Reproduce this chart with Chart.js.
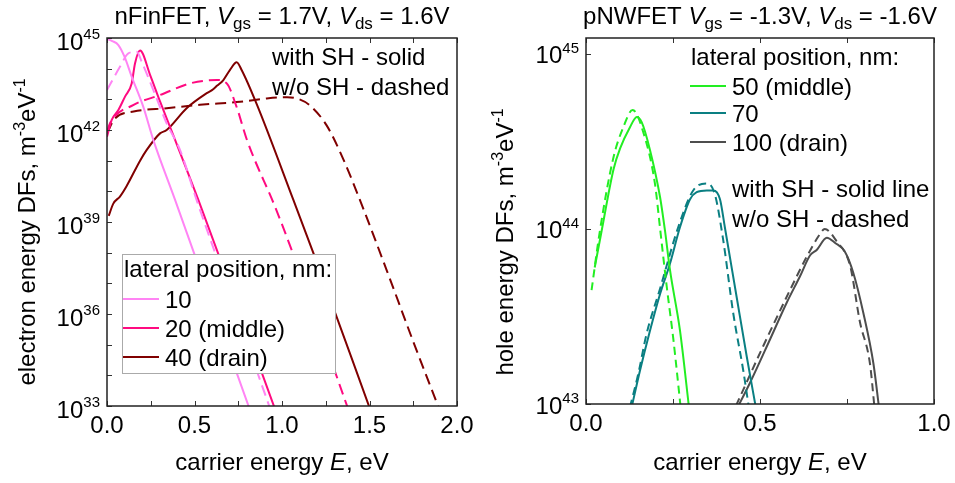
<!DOCTYPE html>
<html>
<head>
<meta charset="utf-8">
<script src="https://cdn.jsdelivr.net/npm/chart.js@4.4.1/dist/chart.umd.min.js"></script>
<style>
  html, body { margin: 0; padding: 0; background: #fff; }
  #wrap { position: relative; width: 955px; height: 483px; }
  canvas { position: absolute; top: 0; }
  #left { left: 0; }
  #right { left: 480px; }
</style>
</head>
<body>
<div id="wrap">
  <canvas id="left" width="480" height="483"></canvas>
  <canvas id="right" width="475" height="483"></canvas>
</div>
<script>
// energy E in eV, DF values stored as log10 (m^-3 eV^-1)

// nFinFET, lateral position 10 / 20 / 40 nm
const n10ShE = [0, 0.03, 0.065, 0.1, 0.141, 0.207, 0.265, 0.389, 0.6, 0.82];
const n10ShLog = [44.97, 44.9, 44.77, 44.39, 43.74, 42.76, 41.67, 39.72, 36.34, 32.82];
const n10NoE = [0, 0.04, 0.074, 0.122, 0.17, 0.2, 0.265, 0.341, 0.417, 0.512, 0.7, 0.93];
const n10NoLog = [43.3, 43.72, 44.06, 44.5, 44.55, 44.2, 43.3, 42.22, 41.35, 39.72, 36.67, 32.95];
const n20ShE = [0, 0.027, 0.065, 0.103, 0.141, 0.16, 0.189, 0.246, 0.303, 0.36, 0.522, 0.75, 0.96];
const n20ShLog = [41.78, 42.33, 42.65, 43.09, 43.52, 44.17, 44.59, 43.8, 42.93, 42.1, 39.72, 36.19, 32.9];
const n20NoE = [0, 0.02, 0.152, 0.303, 0.474, 0.627, 0.684, 0.74, 0.8, 0.96, 1.055, 1.2, 1.375];
const n20NoLog = [41.95, 42.25, 42.82, 43.14, 43.52, 43.63, 43.52, 42.76, 41.67, 39.5, 38.09, 35.78, 32.95];
const n40ShE = [0.01, 0.036, 0.074, 0.11, 0.189, 0.227, 0.303, 0.341, 0.455, 0.57, 0.6, 0.63, 0.665, 0.703, 0.741, 0.77, 0.855, 1.065, 1.18, 1.5];
const n40ShLog = [39.2, 39.6, 39.83, 40.15, 41.0, 41.35, 41.89, 42.0, 42.71, 43.2, 43.3, 43.45, 43.63, 43.96, 44.21, 43.95, 42.85, 39.72, 37.98, 32.95];
const n40NoE = [0, 0.046, 0.152, 0.341, 0.531, 0.76, 0.913, 1.03, 1.1, 1.16, 1.255, 1.35, 1.45, 1.6, 1.75, 1.895];
const n40NoLog = [41.9, 42.38, 42.6, 42.71, 42.82, 42.92, 43.03, 43.07, 43.0, 42.8, 42.15, 41.05, 39.65, 37.4, 35.1, 32.95];

// pNWFET, lateral position 50 / 70 / 100 nm
const p50ShE = [0.025, 0.045, 0.079, 0.098, 0.126, 0.146, 0.16, 0.184, 0.213, 0.227, 0.241, 0.27, 0.296];
const p50ShLog = [43.78, 43.99, 44.34, 44.46, 44.58, 44.64, 44.61, 44.45, 44.18, 43.99, 43.77, 43.42, 42.98];
const p50NoE = [0.016, 0.04, 0.079, 0.107, 0.134, 0.165, 0.198, 0.213, 0.232, 0.251, 0.272];
const p50NoLog = [43.65, 43.99, 44.41, 44.58, 44.68, 44.55, 44.26, 44.0, 43.67, 43.37, 42.98];
const p70ShE = [0.131, 0.155, 0.184, 0.213, 0.241, 0.27, 0.299, 0.318, 0.347, 0.366, 0.385, 0.399, 0.433, 0.462, 0.488];
const p70ShLog = [42.98, 43.19, 43.42, 43.63, 43.8, 44.01, 44.17, 44.21, 44.22, 44.22, 44.17, 44.01, 43.61, 43.27, 42.98];
const p70NoE = [0.126, 0.15, 0.174, 0.213, 0.265, 0.308, 0.347, 0.37, 0.394, 0.423, 0.452, 0.468];
const p70NoLog = [42.98, 43.17, 43.4, 43.66, 44.01, 44.22, 44.26, 44.2, 43.94, 43.52, 43.19, 42.98];
const p100ShE = [0.438, 0.471, 0.529, 0.577, 0.615, 0.644, 0.663, 0.692, 0.716, 0.744, 0.768, 0.797, 0.826, 0.842];
const p100ShLog = [42.99, 43.12, 43.37, 43.58, 43.73, 43.85, 43.88, 43.95, 43.92, 43.87, 43.75, 43.52, 43.23, 42.98];
const p100NoE = [0.431, 0.509, 0.586, 0.634, 0.672, 0.686, 0.72, 0.759, 0.787, 0.816, 0.829];
const p100NoLog = [42.99, 43.33, 43.65, 43.84, 43.97, 44.0, 43.93, 43.79, 43.47, 43.23, 42.98];

const nLegendLabels = ['10', '20 (middle)', '40 (drain)'];
const pLegendLabels = ['50 (middle)', '70', '100 (drain)'];
const nColors = ['#ff84f4', '#ff0a80', '#800000'];
const pColors = ['#22ee22', '#0a7f82', '#4d4d4d'];
const nYLabelExp = [45, 42, 39, 36, 33];
const pYLabelExp = [45, 44, 43];

const FONT = 'Arial, "Liberation Sans", sans-serif';

function pts(E, L) {
  return E.map((x, i) => ({ x: x, y: Math.pow(10, L[i]) }));
}

function fnt(px, it) {
  return (it ? 'italic ' : '') + px + 'px ' + FONT;
}

// draws a run of text pieces, some italic / sub / sup
function drawRich(ctx, parts, x, y, align, size) {
  size = size || 24;
  let w = 0;
  parts.forEach(p => {
    p.px = p.s || ((p.sub || p.sup) ? Math.round(size * 0.62) : size);
    ctx.font = fnt(p.px, p.it);
    p.w = ctx.measureText(p.t).width;
    w += p.w;
  });
  let cx = align === 'center' ? x - w / 2 : align === 'right' ? x - w : x;
  ctx.textAlign = 'left';
  ctx.textBaseline = 'alphabetic';
  parts.forEach(p => {
    ctx.font = fnt(p.px, p.it);
    const dy = p.sup ? -size * 0.42 : p.sub ? size * 0.2 : 0;
    ctx.fillText(p.t, cx, y + dy);
    cx += p.w;
  });
}

function line(ctx, x1, y1, x2, y2) {
  ctx.beginPath();
  ctx.moveTo(x1, y1);
  ctx.lineTo(x2, y2);
  ctx.stroke();
}

function makeDeco(info) {
  return {
    id: 'deco',
    afterDraw(chart) {
      const ctx = chart.ctx;
      const a = chart.chartArea;
      const xs = chart.scales.x, ys = chart.scales.y;
      ctx.save();
      ctx.fillStyle = '#000';

      // legend box (left panel covers the curves)
      if (info.legendBox) {
        const b = info.legendBox;
        ctx.fillStyle = '#fff';
        ctx.fillRect(b[0], b[1], b[2] - b[0], b[3] - b[1]);
        ctx.strokeStyle = '#aaa';
        ctx.lineWidth = 1;
        ctx.strokeRect(b[0] + 0.5, b[1] + 0.5, b[2] - b[0], b[3] - b[1]);
        ctx.fillStyle = '#000';
      }

      // tick marks, pointing inward
      ctx.strokeStyle = '#333';
      ctx.lineWidth = 1;
      for (let v = xs.min; v <= xs.max + 1e-9; v += 0.25) {
        const px = Math.round(xs.getPixelForValue(v)) + 0.5;
        line(ctx, px, a.bottom, px, a.bottom - 5);
        line(ctx, px, a.top, px, a.top + 5);
      }
      for (let e = info.decLo; e <= info.decHi; e++) {
        const py = Math.round(ys.getPixelForValue(Math.pow(10, e))) + 0.5;
        line(ctx, a.left, py, a.left + 5, py);
      }

      // frame
      ctx.strokeStyle = '#222';
      ctx.lineWidth = 1.5;
      ctx.strokeRect(a.left, a.top, a.right - a.left, a.bottom - a.top);

      // y tick labels 10^n
      info.yLabels.forEach(e => {
        const py = ys.getPixelForValue(Math.pow(10, e)) + info.yLabelShift + 8.5;
        drawRich(ctx, [{ t: '10' }, { t: String(e), sup: true, s: 15 }], a.left - 7, py, 'right', 24);
      });

      // title
      drawRich(ctx, info.title, (a.left + a.right) / 2, 24, 'center', 24);

      // x title
      drawRich(ctx, [{ t: 'carrier energy ' }, { t: 'E', it: true }, { t: ', eV' }],
        (a.left + a.right) / 2, 470, 'center', 24);

      // y title, rotated
      ctx.save();
      ctx.translate(info.yTitle[0], info.yTitle[1]);
      ctx.rotate(-Math.PI / 2);
      drawRich(ctx, [{ t: info.yTitleText }, { t: '-3', sup: true, s: 16 }, { t: 'eV' }, { t: '-1', sup: true, s: 16 }],
        0, 0, 'center', 24);
      ctx.restore();

      // legend entries
      const lg = info.legend;
      drawRich(ctx, [{ t: 'lateral position, nm:' }], lg.hx, lg.hy, 'left', 24);
      lg.rows.forEach((ry, i) => {
        ctx.strokeStyle = info.colors[i];
        ctx.lineWidth = 2;
        line(ctx, lg.lx1, ry, lg.lx2, ry);
        drawRich(ctx, [{ t: info.labels[i] }], lg.tx, ry + 8.5, 'left', 24);
      });

      // notes
      info.notes.forEach(n => drawRich(ctx, [{ t: n[0] }], n[1], n[2], 'left', 24));

      ctx.restore();
    }
  };
}

function makePanel(id, cfg) {
  const sets = [];
  cfg.series.forEach((s, i) => {
    sets.push({
      data: pts(s[0], s[1]), borderColor: cfg.colors[i], borderWidth: 2,
      pointRadius: 0, cubicInterpolationMode: 'monotone', fill: false
    });
    sets.push({
      data: pts(s[2], s[3]), borderColor: cfg.colors[i], borderWidth: 2, borderDash: cfg.dash,
      pointRadius: 0, cubicInterpolationMode: 'monotone', fill: false
    });
  });

  return new Chart(document.getElementById(id), {
    type: 'line',
    data: { datasets: sets },
    options: {
      responsive: false,
      animation: false,
      devicePixelRatio: 1,
      layout: { autoPadding: false, padding: { top: 38, left: 0, right: cfg.padRight, bottom: 0 } },
      plugins: { legend: { display: false }, title: { display: false }, tooltip: { enabled: false } },
      scales: {
        x: {
          type: 'linear', min: 0, max: cfg.xMax,
          afterFit: s => { s.height = cfg.xHeight; s.paddingLeft = 0; s.paddingRight = 0; },
          grid: { display: false }, border: { display: false },
          ticks: {
            stepSize: 0.5, padding: -2, color: '#000', maxRotation: 0, autoSkip: false,
            font: { size: 24, family: FONT },
            callback: v => Number(v).toFixed(1)
          }
        },
        y: {
          type: 'logarithmic', min: cfg.yMin, max: cfg.yMax,
          afterFit: s => { s.width = cfg.yWidth; },
          grid: { display: false }, border: { display: false },
          ticks: { display: false }
        }
      }
    },
    plugins: [makeDeco(cfg.deco)]
  });
}

makePanel('left', {
  colors: nColors,
  dash: [11, 6],
  series: [
    [n10ShE, n10ShLog, n10NoE, n10NoLog],
    [n20ShE, n20ShLog, n20NoE, n20NoLog],
    [n40ShE, n40ShLog, n40NoE, n40NoLog]
  ],
  xMax: 2, yMin: 1e33, yMax: 1e45,
  padRight: 23, xHeight: 77, yWidth: 107,
  deco: {
    decLo: 33, decHi: 45, yLabels: nYLabelExp, yLabelShift: 3,
    colors: nColors, labels: nLegendLabels,
    title: [{ t: 'nFinFET, ' }, { t: 'V', it: true }, { t: 'gs', sub: true, s: 17 }, { t: ' = 1.7V, ' },
            { t: 'V', it: true }, { t: 'ds', sub: true, s: 17 }, { t: ' = 1.6V' }],
    yTitle: [35, 232], yTitleText: 'electron energy DFs, m',
    legendBox: [122, 254, 335, 373],
    legend: { hx: 124, hy: 277, rows: [299, 328, 357], lx1: 123, lx2: 159, tx: 165 },
    notes: [['with SH - solid', 272, 65], ['w/o SH - dashed', 272, 95]]
  }
});

makePanel('right', {
  colors: pColors,
  dash: [8, 5],
  series: [
    [p50ShE, p50ShLog, p50NoE, p50NoLog],
    [p70ShE, p70ShLog, p70NoE, p70NoLog],
    [p100ShE, p100ShLog, p100NoE, p100NoLog]
  ],
  xMax: 1, yMin: 1e43, yMax: 1.233e45,
  padRight: 21, xHeight: 79, yWidth: 106,
  deco: {
    decLo: 43, decHi: 45, yLabels: pYLabelExp, yLabelShift: 1,
    colors: pColors, labels: pLegendLabels,
    title: [{ t: 'pNWFET ' }, { t: 'V', it: true }, { t: 'gs', sub: true, s: 17 }, { t: ' = -1.3V, ' },
            { t: 'V', it: true }, { t: 'ds', sub: true, s: 17 }, { t: ' = -1.6V' }],
    yTitle: [33, 242], yTitleText: 'hole energy DFs, m',
    legendBox: null,
    legend: { hx: 211, hy: 65, rows: [86, 113, 142], lx1: 210, lx2: 246, tx: 252 },
    notes: [['with SH - solid line', 252, 197], ['w/o SH - dashed', 252, 227]]
  }
});
</script>
</body>
</html>
